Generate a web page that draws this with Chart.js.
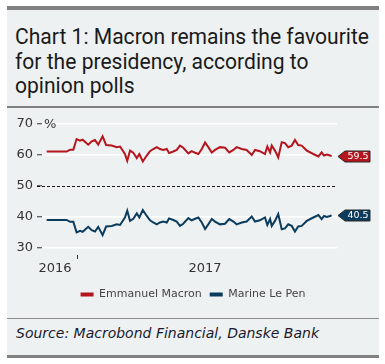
<!DOCTYPE html>
<html><head><meta charset="utf-8">
<script src="https://cdn.jsdelivr.net/npm/chart.js@4.4.0/dist/chart.umd.min.js"></script>
<style>
html,body{margin:0;padding:0;background:#fff;width:385px;height:364px;overflow:hidden;}
.abs{position:absolute;}
#panel{left:7px;top:6px;width:372px;height:352px;background:#eef1f2;}
#topbar{left:7px;top:6px;width:372px;height:4px;background:#808080;}
#sep1{left:7px;top:106px;width:372px;height:2px;background:#808080;}
#sep2{left:7px;top:318px;width:372px;height:1px;background:#8c8c8c;}
#botbar{left:7px;top:355px;width:372px;height:3px;background:#808080;}
#title{left:15px;top:25px;font-family:Roboto,sans-serif;font-size:22px;line-height:24.5px;color:#1a1a1a;white-space:nowrap;transform-origin:0 0;}
#title span{display:inline-block;}
#source{left:16px;top:325px;font-family:"DejaVu Sans",sans-serif;font-style:italic;font-size:13.5px;color:#1a1a2e;white-space:nowrap;transform-origin:0 0;}
#wrap{left:7px;top:108px;width:372px;height:210px;}
</style></head>
<body>
<div id="panel" class="abs"></div>
<div id="topbar" class="abs"></div>
<div id="sep1" class="abs"></div>
<div id="sep2" class="abs"></div>
<div id="botbar" class="abs"></div>
<div id="title" class="abs"><span id="t1">Chart 1: Macron remains the favourite</span><br><span>for the presidency, according to</span><br><span>opinion polls</span></div>
<div id="source" class="abs">Source: Macrobond Financial, Danske Bank</div>
<div id="wrap" class="abs"><canvas id="c"></canvas></div>
<script>
// Days relative to 1 Jan 2017 (negative = 2016)
const days = [-13.0,-4.4,-2.9,-1.5,-0.1,1.4,2.5,4.9,6.4,7.8,9.2,11.1,12.6,15.0,17.2,18.6,20.7,21.7,22.9,24.3,25.8,26.9,28.4,30.1,31.5,32.9,34.4,35.8,37.2,38.7,39.7,41.5,43.0,44.4,45.8,48.0,49.4,50.9,52.3,53.8,55.2,56.6,58.1,59.5,61.6,63.8,65.6,67.4,68.8,71.0,73.1,75.3,76.7,78.8,81.0,82.0,83.2,83.9,85.3,86.7,88.2,89.6,91.0,92.5,93.9,95.3,96.8,99.0,101.8,104.0,105.4,106.4,107.6,109.0,109.7];
const macron = [61.0,61.0,61.6,61.6,65.0,64.5,64.8,63.2,64.3,64.7,63.2,65.9,63.1,62.9,62.4,62.6,60.2,58.0,61.3,60.6,58.9,60.2,57.8,59.7,61.1,61.8,62.4,61.8,61.5,61.8,60.5,61.0,61.5,62.9,62.2,60.4,61.1,60.6,60.2,61.8,63.9,62.4,60.7,61.5,62.4,62.2,60.7,61.5,62.4,61.8,61.5,59.9,61.5,61.1,60.2,62.6,60.7,62.9,61.3,59.1,64.0,63.7,62.4,62.9,64.7,63.1,62.9,61.3,60.2,59.4,60.7,59.7,60.0,59.7,59.5];
const lePen = [39.0,39.0,38.4,38.4,35.0,35.5,35.2,36.8,35.7,35.3,36.8,34.1,36.9,37.1,37.6,37.4,39.8,42.0,38.7,39.4,41.1,39.8,42.2,40.3,38.9,38.2,37.6,38.2,38.5,38.2,39.5,39.0,38.5,37.1,37.8,39.6,38.9,39.4,39.8,38.2,36.1,37.6,39.3,38.5,37.6,37.8,39.3,38.5,37.6,38.2,38.5,40.1,38.5,38.9,39.8,37.4,39.3,37.1,38.7,40.9,36.0,36.3,37.6,37.1,35.3,36.9,37.1,38.7,39.8,40.6,39.3,40.3,40.0,40.3,40.5];
const seriesNames = ['Emmanuel Macron','Marine Le Pen'];
const seriesColors = ['#b5161e','#0b3c5d'];
const yearLabels = ['2016','2017'];
const yearLabelAt = [-9.4, 55.2];   // label centres (days)
const yearBoundary = 0;             // 1 Jan 2017
const xMin = -15, xMax = 112;
const yMin = 30, yMax = 70, yStep = 5, yRef = 50;

function fitAll(){
  const title=document.getElementById('title');
  title.style.transform='none';
  const w=document.getElementById('t1').getBoundingClientRect().width;
  if (w>0) title.style.transform='scaleX('+(354/w)+')';
  const src=document.getElementById('source');
  src.style.transform='none';
  const ws=src.getBoundingClientRect().width;
  if (ws>0) src.style.transform='scaleX('+(303/ws)+')';
}
fitAll();
if (document.fonts && document.fonts.ready) document.fonts.ready.then(fitAll);

const extras = {
  id:'extras',
  beforeDatasetsDraw(chart){
    const {ctx, chartArea:a, scales:{x,y}} = chart;
    ctx.save();
    const y50 = Math.round(y.getPixelForValue(yRef))+0.5;
    ctx.strokeStyle='#1a1a1a'; ctx.lineWidth=1; ctx.setLineDash([3,2]);
    ctx.beginPath(); ctx.moveTo(a.left-5,y50); ctx.lineTo(a.right,y50); ctx.stroke();
    ctx.setLineDash([]);
    ctx.strokeStyle='#333';
    const xb = Math.round(x.getPixelForValue(yearBoundary))+0.5;
    ctx.beginPath(); ctx.moveTo(xb,a.bottom+7); ctx.lineTo(xb,a.bottom+11); ctx.stroke();
    ctx.fillStyle='#333'; ctx.font='13px "DejaVu Sans"'; ctx.textBaseline='middle'; ctx.textAlign='left';
    ctx.fillText('%', a.left+2, y.getPixelForValue(yMax)+1);
    ctx.restore();
  },
  afterDatasetsDraw(chart){
    const {ctx, chartArea:a, scales:{y}} = chart;
    ctx.save();
    chart.data.datasets.forEach(ds=>{
      const last = ds.data[ds.data.length-1];
      const py = Math.round(y.getPixelForValue(last.y))+0.5;
      const tip=a.right+1, bx=a.right+8, bw=25, h=11;
      ctx.beginPath(); ctx.moveTo(tip,py); ctx.lineTo(bx,py-h/2); ctx.lineTo(bx+bw,py-h/2);
      ctx.lineTo(bx+bw,py+h/2); ctx.lineTo(bx,py+h/2); ctx.closePath();
      ctx.fillStyle=ds.borderColor; ctx.fill();
      ctx.strokeStyle='#2a2a2a'; ctx.lineWidth=1; ctx.stroke();
      ctx.fillStyle='#fff'; ctx.font='9.5px "DejaVu Sans"'; ctx.textAlign='center'; ctx.textBaseline='middle';
      ctx.fillText(last.y.toFixed(1), bx+bw/2+0.5, py+0.5);
    });
    ctx.restore();
  }
};

const mk = arr => days.map((d,i)=>({x:d,y:arr[i]}));
new Chart(document.getElementById('c'), {
  type:'line',
  data:{datasets:[
    {label:seriesNames[0], data:mk(macron), borderColor:seriesColors[0], backgroundColor:seriesColors[0], borderWidth:2, pointRadius:0, tension:0},
    {label:seriesNames[1], data:mk(lePen), borderColor:seriesColors[1], backgroundColor:seriesColors[1], borderWidth:2, pointRadius:0, tension:0}
  ]},
  options:{
    responsive:true, maintainAspectRatio:false, animation:false, devicePixelRatio:1,
    layout:{padding:{top:15.5,right:0,left:0,bottom:8}},
    plugins:{
      tooltip:{enabled:false},
      legend:{position:'bottom', labels:{
        boxWidth:13, boxHeight:4, padding:8, color:'#444',
        font:{family:'DejaVu Sans', size:11},
        generateLabels:(chart)=>Chart.defaults.plugins.legend.labels.generateLabels(chart).map(l=>({...l, lineWidth:0}))
      }}
    },
    scales:{
      x:{type:'linear', min:xMin, max:xMax,
        grid:{display:false, drawTicks:false}, border:{display:false},
        afterBuildTicks:(s)=>{ s.ticks = yearLabelAt.map(v=>({value:v})); },
        afterFit:(s)=>{ s.height = 33; },
        ticks:{autoSkip:false, maxRotation:0, padding:13, color:'#333', font:{family:'DejaVu Sans', size:13},
          callback:(v,i)=>yearLabels[i]}
      },
      y:{min:yMin, max:yMax,
        afterFit:(s)=>{ s.width = 35; },
        border:{display:false},
        grid:{color:(c)=> (c.tick && c.tick.value===yRef) ? 'rgba(0,0,0,0)' : '#ffffff', lineWidth:1.5,
          drawTicks:true, tickLength:5, tickColor:'#333', tickWidth:1},
        ticks:{stepSize:yStep, padding:4, color:'#333', font:{family:'DejaVu Sans', size:13},
          callback:(v)=> (v%10===0 ? String(v) : '')}
      },
      yRight:{position:'right', min:yMin, max:yMax,
        afterFit:(s)=>{ s.width = 42; },
        border:{display:false}, grid:{display:false, drawTicks:false},
        ticks:{display:false}
      }
    }
  },
  plugins:[extras]
});
</script>
</body></html>
